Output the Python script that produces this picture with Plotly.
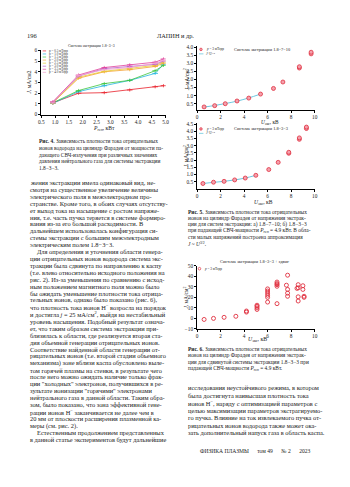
import plotly.graph_objects as go

W, H = 350, 487
def X(px): return px / W
def Y(py): return 1 - py / H

# ---------------- data ----------------
p_gen = [0.92, 1.85, 2.78, 3.70, 4.62, 4.92]
pressures = ["0.5", "1.0", "1.5", "2.0", "2.5", "3.0", "3.5", "4.0"]
j_fig4 = [
    [1.10, 2.00, 2.05, 2.30, 2.60, 2.70],
    [1.05, 2.15, 2.70, 3.20, 3.85, 4.70],
    [1.10, 2.25, 2.90, 3.20, 4.10, 4.60],
    [1.10, 3.40, 4.00, 4.20, 4.50, 4.80],
    [1.10, 3.50, 4.05, 4.30, 4.60, 4.90],
    [1.15, 3.60, 4.30, 4.50, 4.70, 5.00],
    [1.20, 3.70, 4.40, 4.65, 4.90, 5.20],
    [1.10, 3.65, 4.20, 4.40, 4.80, 5.05],
]
colors4 = ["#e8202a", "#22b5e0", "#3cc43c", "#f5a030", "#e8cc30", "#b860c8", "#e0409a", "#f0a0d0"]

u5a = [0.6, 1.5, 2.4, 3.4, 4.4, 5.4, 6.5, 7.3, 8.7, 8.7, 9.7, 9.7]
j5a = [0.30, 0.38, 0.50, 0.67, 0.85, 1.10, 1.45, 1.85, 2.72, 2.80, 3.60, 3.70]
u5a_fit = [0.6, 1.5, 2.4, 3.4, 4.4, 5.4]
j5a_fit = [0.29, 0.39, 0.51, 0.66, 0.86, 1.10]

u5b = [0.5, 1.4, 2.3, 3.2, 4.1, 5.0, 6.1, 6.9, 7.8, 7.8, 8.7, 8.7, 9.3, 9.3]
j5b = [0.38, 0.47, 0.53, 0.63, 0.76, 0.95, 1.35, 1.85, 2.48, 2.55, 3.45, 3.55, 4.20, 4.30]
u5b_fit = [0.5, 1.4, 2.3, 3.2, 4.1, 5.0]
j5b_fit = [0.38, 0.46, 0.53, 0.63, 0.76, 0.95]

u6 = [0.6, 1.4, 2.3, 3.3, 4.2, 4.2, 5.1, 5.1, 5.1, 5.1, 6.0, 6.0, 6.0, 6.0, 6.0, 6.0,
      6.8, 6.8, 6.8, 6.8, 6.8, 7.6, 7.7, 7.7, 7.7, 7.7, 8.5, 8.6, 8.6, 8.6, 8.6,
      9.0, 9.0, 9.1, 9.1]
j6 = [-1.0, 0.0, 1.0, 2.0, 6.0, 7.0, 8.5, 10.0, 11.5, 12.5, 15.5, 20.0, 22.0, 24.0, 26.0, 28.0,
      14.0, 30.5, 32.0, 33.0, 34.5, 31.5, 41.0, 27.5, 24.0, 21.0, 28.5, 32.0, 29.0, 20.5, 16.5,
      27.5, 31.0, 21.0, 20.0]

fig = go.Figure()
FONT = "Liberation Serif"
INK = "#222222"

# --------------- axes ---------------
def ax_common(**kw):
    d = dict(showline=True, linecolor="black", linewidth=0.8, ticks="outside", ticklen=2,
             tickwidth=0.6, tickcolor="black", showgrid=False, zeroline=False,
             tickfont=dict(family=FONT, size=5.3, color=INK), mirror=False)
    d.update(kw)
    return d

fig.update_layout(
    xaxis=ax_common(domain=[X(39), X(166)], range=[0.5, 5.0], tickvals=[0.5,1,1.5,2,2.5,3,3.5,4,4.5,5],
                    ticktext=["0.5","1.0","1.5","2.0","2.5","3.0","3.5","4.0","4.5","5.0"], anchor="y"),
    yaxis=ax_common(domain=[Y(113), Y(48)], range=[0, 6], dtick=1, anchor="x"),
    xaxis2=ax_common(domain=[X(198), X(318)], range=[0, 10], dtick=2, anchor="y2"),
    yaxis2=ax_common(domain=[Y(108), Y(44)], range=[0.13, 4.06], tickvals=[0.5,1,1.5,2,2.5,3,3.5,4],
                     ticktext=["0.5","1.0","1.5","2.0","2.5","3.0","3.5","4.0"], anchor="x2"),
    xaxis3=ax_common(domain=[X(198), X(318)], range=[0, 10], dtick=2, anchor="y3"),
    yaxis3=ax_common(domain=[Y(188), Y(122)], range=[0.02, 4.55], tickvals=[0.5,1,1.5,2,2.5,3,3.5,4,4.5],
                     ticktext=["0.5","1.0","1.5","2.0","2.5","3.0","3.5","4.0","4.5"], anchor="x3"),
    xaxis4=ax_common(domain=[X(198), X(318)], range=[0, 10], dtick=2, anchor="y4"),
    yaxis4=ax_common(domain=[Y(330), Y(266)], range=[-10, 50], dtick=10, anchor="x4"),
)

# --------------- traces ---------------
for i, (p, js) in enumerate(zip(pressures, j_fig4)):
    fig.add_trace(go.Scatter(x=p_gen, y=js, mode="lines+markers", xaxis="x", yaxis="y",
                             line=dict(color=colors4[i], width=0.8),
                             marker=dict(symbol="line-ew", size=4, line=dict(color=colors4[i], width=0.8)),
                             error_y=dict(type="constant", value=0.15, color=colors4[i], thickness=0.7, width=0),
                             showlegend=False, name=f"p = {p} мТорр"))

mk = dict(symbol="circle", size=4, color="#f4a0ac", line=dict(color="#e03040", width=0.8))
fig.add_trace(go.Scatter(x=u5a_fit, y=j5a_fit, mode="lines", xaxis="x2", yaxis="y2", line_shape="spline",
                         line=dict(color="#6cc8e0", width=1), showlegend=False))
fig.add_trace(go.Scatter(x=u5a, y=j5a, mode="markers", xaxis="x2", yaxis="y2", marker=mk, showlegend=False))
fig.add_trace(go.Scatter(x=u5b_fit, y=j5b_fit, mode="lines", xaxis="x3", yaxis="y3", line_shape="spline",
                         line=dict(color="#6cc8e0", width=1), showlegend=False))
fig.add_trace(go.Scatter(x=u5b, y=j5b, mode="markers", xaxis="x3", yaxis="y3", marker=mk, showlegend=False))
fig.add_trace(go.Scatter(x=u6, y=j6, mode="markers", xaxis="x4", yaxis="y4",
                         marker=dict(symbol="circle-open", size=4, color="#e03040", line=dict(width=0.9)),
                         showlegend=False))

# --------------- text ---------------
ann = []
def txt(px, py, s, size=6.3, xanchor="left", angle=0, color=INK):
    ann.append(dict(x=X(px), y=Y(py), xref="paper", yref="paper", text=s, showarrow=False,
                    xanchor=xanchor, yanchor="middle", textangle=angle,
                    font=dict(family=FONT, size=size, color=color)))

# header / footer
txt(22, 33, "196", 6.5)
txt(176, 33, "ЛАПИН и др.", 6.3, xanchor="center")
txt(258, 454, "ФИЗИКА ПЛАЗМЫ      том 49      № 2      2023", 5.6, xanchor="center")

# fig 4 labels
txt(90, 44, "Система экстракции 1.8−3−3", 3.8, xanchor="center")
txt(27, 80, "<i>J</i>, мА/см2", 5.5, xanchor="center", angle=-90)
txt(103, 127, "<i>P</i><sub>ген</sub>, кВт", 5.6, xanchor="center")
for i, p in enumerate(pressures):
    yy = 48.5 + i * 3.1
    txt(44.5, yy, f"p = {p} мТорр", 3.3, color="#333")
# fig 5a
txt(234, 47, "Система экстракции 1.8−7−10", 4.4)
txt(205, 47, "<i>p</i> = 3 мТорр", 3.4)
txt(205, 51.5, "<i>J</i>~<i>U</i><sup>3/2</sup>", 3.4)
txt(187, 77, "<i>J</i>, мА/см<sup>2</sup>", 5.5, xanchor="center", angle=-90)
txt(272, 121, "<i>U</i><sub>экс</sub>, кВ", 5.3, xanchor="center")
# fig 5b
txt(234, 127, "Система экстракции 1.8−3−3", 4.4)
txt(205, 127.5, "<i>p</i> = 3 мТорр", 3.4)
txt(205, 132, "<i>J</i>~<i>U</i><sup>3/2</sup>", 3.4)
txt(187, 155, "<i>J</i>, мА/см<sup>2</sup>", 5.5, xanchor="center", angle=-90)
txt(266, 201.5, "<i>U</i><sub>экс</sub>, кВ", 5.6, xanchor="center")
# fig 6
txt(257, 262, "Система экстракции 1.8−3−3 + сдвиг", 4.4, xanchor="center")
txt(203, 269, "<i>p</i> = 3 мТорр", 3.4)
txt(187, 298, "<i>J</i>, мА/см<sup>2</sup>", 5.5, xanchor="center", angle=-90)
txt(260, 341, "<i>U</i><sub>экс</sub>, кВ", 5.8, xanchor="center")

# captions
cap4 = ["<b>Рис. 4.</b> Зависимость плотности тока отрицательных",
        "ионов водорода на цилиндр Фарадея от мощности па-",
        "дающего СВЧ-излучения при различных значениях",
        "давления нейтрального газа для системы экстракции",
        "1.8−3−3."]
for i, s in enumerate(cap4):
    txt(35, 140 + i * 6.7, s, 5.4)
cap5 = ["<b>Рис. 5.</b> Зависимость плотности тока отрицательных",
        "ионов на цилиндр Фарадея от напряжения экстрак-",
        "ции для систем экстракции: а) 1.8−7−10; б) 1.8−3−3",
        "при падающей СВЧ-мощности <i>P</i><sub>ген</sub> = 4.9 кВт. В обла-",
        "сти малых напряжений построена аппроксимация",
        "<i>J</i> ~ <i>U</i><sup>3/2</sup>."]
for i, s in enumerate(cap5):
    txt(187, 211.5 + i * 6.4, s, 5.4)
cap6 = ["<b>Рис. 6.</b> Зависимость плотности тока отрицательных",
        "ионов на цилиндр Фарадея от напряжения экстрак-",
        "ции для сдвинутой системы экстракции 1.8−3−3 при",
        "падающей СВЧ-мощности <i>P</i><sub>ген</sub> = 4.9 кВт."]
for i, s in enumerate(cap6):
    txt(187, 350 + i * 6.7, s, 5.4)

left_col = [
    ("жения экстракции имела одинаковый вид, не-", 0),
    ("смотря на существенное увеличение величины", 0),
    ("электрического поля в межэлектродном про-", 0),
    ("странстве. Кроме того, в обоих случаях отсутству-", 0),
    ("ет выход тока на насыщение с ростом напряже-", 0),
    ("ния, т.е. часть пучка теряется в системе формиро-", 0),
    ("вания из-за его большой расходимости. В", 0),
    ("дальнейшем использовалась конфигурация си-", 0),
    ("стемы экстракции с большим межэлектродным", 0),
    ("электрическим полем 1.8−3−3.", 0),
    ("Для определения и уточнения области генера-", 1),
    ("ции отрицательных ионов водорода система экс-", 0),
    ("тракции была сдвинута по направлению к каспу", 0),
    ("(т.е. влево относительно исходного положения на", 0),
    ("рис. 2). Из-за уменьшения по сравнению с исход-", 0),
    ("ным положением магнитного поля можно было", 0),
    ("бы ожидать уменьшение плотности тока отрица-", 0),
    ("тельных ионов, однако было показано (рис. 6),", 0),
    ("что плотность тока ионов H<sup>−</sup> возросла на порядок", 0),
    ("и достигла <i>j</i> = 25 мА/см<sup>2</sup>, выйдя на нестабильный", 0),
    ("уровень насыщения. Подобный результат означа-", 0),
    ("ет, что таким образом система экстракции при-", 0),
    ("близилась к области, где реализуется вторая ста-", 0),
    ("дия объемной генерации отрицательных ионов.", 0),
    ("Соответствие найденной области генерации от-", 0),
    ("рицательных ионов (т.е. второй стадии объемного", 0),
    ("механизма) зоне вблизи каспа обусловлено выле-", 0),
    ("том горячей плазмы на стенки, в результате чего", 0),
    ("после него можно ожидать наличие только фрак-", 0),
    ("ции \"холодных\" электронов, получившихся в ре-", 0),
    ("зультате ионизации \"горячими\" электронами", 0),
    ("нейтрального газа в данной области. Таким обра-", 0),
    ("зом, было показано, что зона эффективной гене-", 0),
    ("рации ионов H<sup>−</sup> заканчивается не далее чем в", 0),
    ("20 мм от плоскости расширения плазменной ка-", 0),
    ("меры (см. рис. 2).", 0),
    ("Естественным продолжением представленных", 1),
    ("в данной статье экспериментов будут дальнейшие", 0),
]
for i, (s, ind) in enumerate(left_col):
    txt(25 + ind * 8, 181.5 + i * 7.04, s, 6.4)

right_col = [
    "исследования неустойчивого режима, в котором",
    "была достигнута наивысшая плотность тока",
    "ионов H<sup>−</sup>, наряду с оптимизацией параметров с",
    "целью максимизации параметров экстрагируемо-",
    "го пучка. Влияние на ток извлекаемого пучка от-",
    "рицательных ионов водорода также может ока-",
    "зать дополнительный напуск газа в область каспа.",
]
for i, s in enumerate(right_col):
    txt(187, 389.5 + i * 7.6, s, 6.4)

# legend symbols (decorative)
shapes = []
for i in range(len(pressures)):
    yy = Y(48.5 + i * 3.1)
    shapes.append(dict(type="line", xref="paper", yref="paper", x0=X(40.5), x1=X(44), y0=yy, y1=yy,
                       line=dict(color=colors4[i], width=0.7)))
def circ(px, py, r, fill, line):
    shapes.append(dict(type="circle", xref="paper", yref="paper", x0=X(px - r), x1=X(px + r),
                       y0=Y(py + r), y1=Y(py - r), fillcolor=fill, line=dict(color=line, width=0.7)))
circ(202, 47, 1.3, "#f4a0ac", "#e03040")
shapes.append(dict(type="line", xref="paper", yref="paper", x0=X(200), x1=X(204.5), y0=Y(51.5), y1=Y(51.5),
                   line=dict(color="#6cc8e0", width=0.8)))
circ(202, 127.5, 1.3, "#f4a0ac", "#e03040")
shapes.append(dict(type="line", xref="paper", yref="paper", x0=X(200), x1=X(204.5), y0=Y(132), y1=Y(132),
                   line=dict(color="#6cc8e0", width=0.8)))
circ(200.5, 269, 1.3, "rgba(0,0,0,0)", "#e03040")

fig.update_layout(width=W, height=H, margin=dict(l=0, r=0, t=0, b=0),
                  paper_bgcolor="white", plot_bgcolor="white",
                  annotations=ann, shapes=shapes, showlegend=False,
                  font=dict(family=FONT, color=INK))
fig.write_html("out.html")
